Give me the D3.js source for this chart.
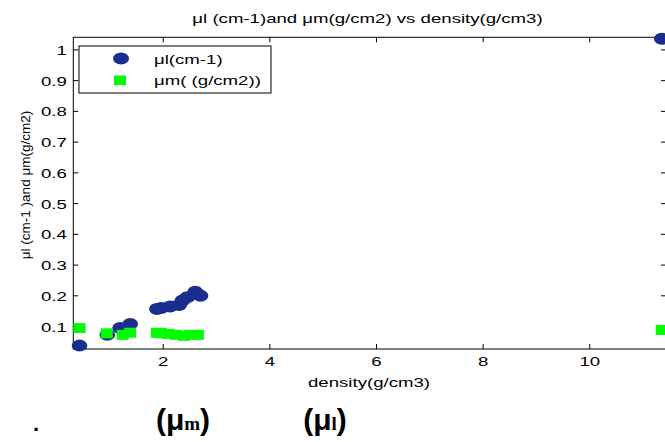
<!DOCTYPE html>
<html><head><meta charset="utf-8">
<script src="https://cdn.jsdelivr.net/npm/d3@7"></script>
<style>body{margin:0;background:#fff}svg{display:block}</style>
</head><body>
<svg id="c" width="665" height="442"></svg>
<script>
// ---- data ----
const densityL = [0.43, 0.95, 1.19, 1.38, 1.88, 1.96, 2.13, 2.30, 2.36, 2.45, 2.60, 2.70, 2.65, 11.35];
const muL      = [0.038, 0.073, 0.095, 0.108, 0.157, 0.160, 0.165, 0.170, 0.185, 0.195, 0.213, 0.200, 0.205, 1.036];
const densityM = [0.43, 0.94, 1.24, 1.38, 1.88, 1.96, 2.09, 2.24, 2.39, 2.50, 2.65, 11.35];
const muM      = [0.095, 0.078, 0.073, 0.080, 0.080, 0.079, 0.076, 0.073, 0.070, 0.073, 0.073, 0.089];
const xTicks = [2, 4, 6, 8, 10];
const yTicks = [0.1, 0.2, 0.3, 0.4, 0.5, 0.6, 0.7, 0.8, 0.9, 1];
const xDomain = [0.313, 11.43];
const yDomain = [0.027, 1.041];
const titleText = "μl (cm-1)and μm(g/cm2) vs density(g/cm3)";
const xLabel = "density(g/cm3)";
const yLabel = "μl (cm-1 )and μm(g/cm2)";
const legendLabels = ["μl(cm-1)", "μm( (g/cm2))"];

const SX = 1.38; // horizontal stretch of the original image
const FS = 13.5;
const FONT = "Liberation Sans, Arial, sans-serif";
const BLUE = "#1b2d8e", GREEN = "#00ff00";
const L = 73.3, R = 666, T = 37.3, B = 349;

const svg = d3.select("#c");
const x = d3.scaleLinear().domain(xDomain).range([L, R]);
const y = d3.scaleLinear().domain(yDomain).range([B, T]);

function stext(px, py, str, size, anchor) {
  const g = svg.append("g").attr("transform", `translate(${px},${py}) scale(${SX},1)`);
  return g.append("text").attr("x", 0).attr("y", 0).attr("font-family", FONT)
    .attr("font-size", size).attr("text-anchor", anchor || "start").attr("fill", "#000").text(str);
}

// axes box
svg.append("rect").attr("x", L).attr("y", T).attr("width", R - L).attr("height", B - T)
  .attr("fill", "none").attr("stroke", "#000").attr("stroke-width", 1);

// ticks (inward)
const tk = 5;
xTicks.forEach(v => {
  svg.append("line").attr("x1", x(v)).attr("x2", x(v)).attr("y1", B).attr("y2", B - tk).attr("stroke", "#000");
  svg.append("line").attr("x1", x(v)).attr("x2", x(v)).attr("y1", T).attr("y2", T + tk).attr("stroke", "#000");
  stext(x(v), B + 16.5, String(v), FS, "middle");
});
yTicks.forEach(v => {
  svg.append("line").attr("x1", L).attr("x2", L + tk).attr("y1", y(v)).attr("y2", y(v)).attr("stroke", "#000");
  svg.append("line").attr("x1", R).attr("x2", R - tk).attr("y1", y(v)).attr("y2", y(v)).attr("stroke", "#000");
  stext(L - 6.5, y(v) + 5, String(v), FS, "end");
});

// series
svg.append("g").selectAll("ellipse").data(densityL.map((d, i) => [d, muL[i]])).join("ellipse")
  .attr("cx", d => x(d[0])).attr("cy", d => y(d[1])).attr("rx", 7.8).attr("ry", 6)
  .attr("fill", BLUE);
svg.append("g").selectAll("rect").data(densityM.map((d, i) => [d, muM[i]])).join("rect")
  .attr("x", d => x(d[0]) - 6).attr("y", d => y(d[1]) - 5).attr("width", 12).attr("height", 10)
  .attr("fill", GREEN);

// legend
svg.append("rect").attr("x", 79).attr("y", 46).attr("width", 192).attr("height", 47)
  .attr("fill", "#fff").attr("stroke", "#000");
svg.append("ellipse").attr("cx", 121).attr("cy", 58.5).attr("rx", 8).attr("ry", 6).attr("fill", BLUE);
svg.append("rect").attr("x", 114).attr("y", 75.5).attr("width", 12).attr("height", 9.5).attr("fill", GREEN);
stext(154, 63.5, legendLabels[0], FS, "start");
stext(154, 85, legendLabels[1], FS, "start");

// title & labels
stext(367.5, 23, titleText, FS, "middle");
stext(369, 387, xLabel, FS, "middle");
svg.append("text").attr("transform", `translate(30,185) rotate(-90)`)
  .attr("font-family", FONT).attr("font-size", FS).attr("text-anchor", "middle").text(yLabel);

// caption below
const cap = svg.append("g");
cap.append("text").attr("x", 36).attr("y", 431).attr("font-family", FONT).attr("font-weight", "bold")
  .attr("font-size", 22).attr("text-anchor", "middle").text(".");
function muSym(cx, sub) {
  const t = cap.append("text").attr("x", cx).attr("y", 430)
    .attr("font-family", "Liberation Sans Narrow, Liberation Sans, Arial, sans-serif")
    .attr("font-weight", "bold").attr("font-size", 30).attr("text-anchor", "middle");
  t.append("tspan").text("(μ");
  t.append("tspan").attr("font-family", "Liberation Serif, Times New Roman, serif").attr("font-size", 19).text(sub);
  t.append("tspan").text(")");
}
muSym(183, "m");
muSym(325, "l");
</script>
</body></html>
